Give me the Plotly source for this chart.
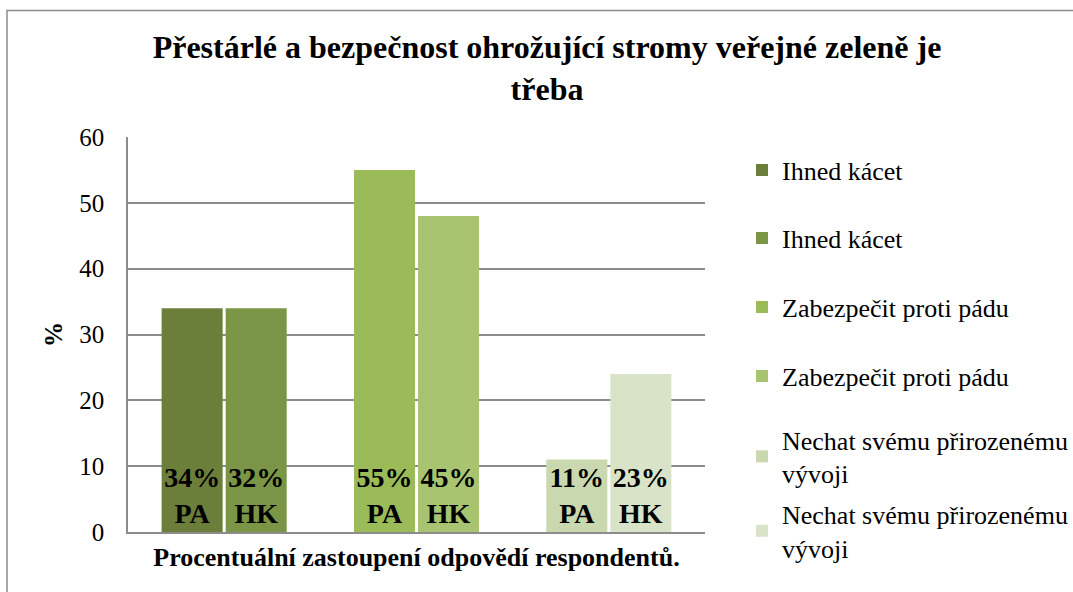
import plotly.graph_objects as go

# Data
series_names = ["Ihned kácet", "Ihned kácet", "Zabezpečit proti pádu", "Zabezpečit proti pádu",
                "Nechat svému přirozenému<br>vývoji", "Nechat svému přirozenému<br>vývoji"]
categories = ["Ihned kácet", "Ihned kácet", "Zabezpečit", "Zabezpečit", "Nechat", "Nechat"]
values = [34, 34, 55, 48, 11, 24]
pct_labels = ["34%", "32%", "55%", "45%", "11%", "23%"]
region_labels = ["PA", "HK", "PA", "HK", "PA", "HK"]
offset_groups = ["a", "b", "a", "b", "a", "b"]
colors = ["#6b7f3a", "#7b9546", "#9bbb59", "#a9c471", "#c9d8ae", "#d9e3c8"]

FONT = "Liberation Serif, Tinos, Times New Roman, DejaVu Serif, serif"

# plot area geometry (px)
W, H = 1073, 592
L, R, T, B = 128, 705, 137, 532

def py(ypx):
    return (B - ypx) / (B - T)

def px(xpx):
    return (xpx - L) / (R - L)

fig = go.Figure()
legend_centres = [170, 238, 307, 376, 456.5, 531]
for i in range(len(values)):
    lg = "legend" if i == 0 else f"legend{i+1}"
    fig.add_trace(go.Bar(
        x=[categories[i]], y=[values[i]], name=series_names[i],
        offsetgroup=offset_groups[i],
        marker=dict(color=colors[i], line=dict(width=0)),
        text=[f"<b>{pct_labels[i]}<br>{region_labels[i]}</b>"],
        textposition="inside", insidetextanchor="start",
        textfont=dict(family=FONT, size=28, color="black"),
        constraintext="none",
        legend=lg, showlegend=True,
    ))

layout_legends = {}
for i, yc in enumerate(legend_centres):
    key = "legend" if i == 0 else f"legend{i+1}"
    layout_legends[key] = dict(
        x=px(742), xanchor="left", y=py(yc), yanchor="middle",
        font=dict(family=FONT, size=26, color="black"),
        bgcolor="rgba(0,0,0,0)", borderwidth=0, itemwidth=30,
    )

fig.update_layout(
    width=W, height=H,
    margin=dict(l=L, r=W - R, t=T, b=H - B, autoexpand=False),
    paper_bgcolor="white", plot_bgcolor="white",
    barmode="group", bargap=0.334, bargroupgap=0.047,
    font=dict(family=FONT, color="black"),
    title=dict(
        text="<b>Přestárlé a bezpečnost ohrožující stromy veřejné zeleně je<br>třeba</b>",
        x=547 / W, xref="container", xanchor="center",
        y=1 - 58 / H, yref="container", yanchor="middle",
        font=dict(family=FONT, size=32, color="black"),
    ),
    **layout_legends,
)

fig.update_yaxes(
    range=[0, 60], dtick=10, showgrid=True, gridcolor="#8c8c8c", gridwidth=1.5,
    showline=True, linecolor="#8c8c8c", linewidth=1.5, zeroline=False,
    ticks="", ticklabelstandoff=17,
    tickfont=dict(family=FONT, size=25, color="black"),
    title=dict(text="<b>%</b>", font=dict(family=FONT, size=25, color="black"), standoff=10),
)
fig.update_xaxes(
    showticklabels=False, showline=True, linecolor="#8c8c8c", linewidth=1.5,
    ticks="", showgrid=False,
    title=dict(text="<b>Procentuální zastoupení odpovědí respondentů.</b>",
               font=dict(family=FONT, size=26, color="black"), standoff=15),
)

# outer chart-area border
fig.add_shape(type="rect", xref="paper", yref="paper",
              x0=px(7), x1=px(1090), y0=py(610), y1=py(10.5),
              line=dict(color="#8c8c8c", width=1.5), fillcolor="rgba(0,0,0,0)", layer="below")

fig.write_html("out.html", config={"displayModeBar": False},
               post_script="document.body.style.margin='0';")
